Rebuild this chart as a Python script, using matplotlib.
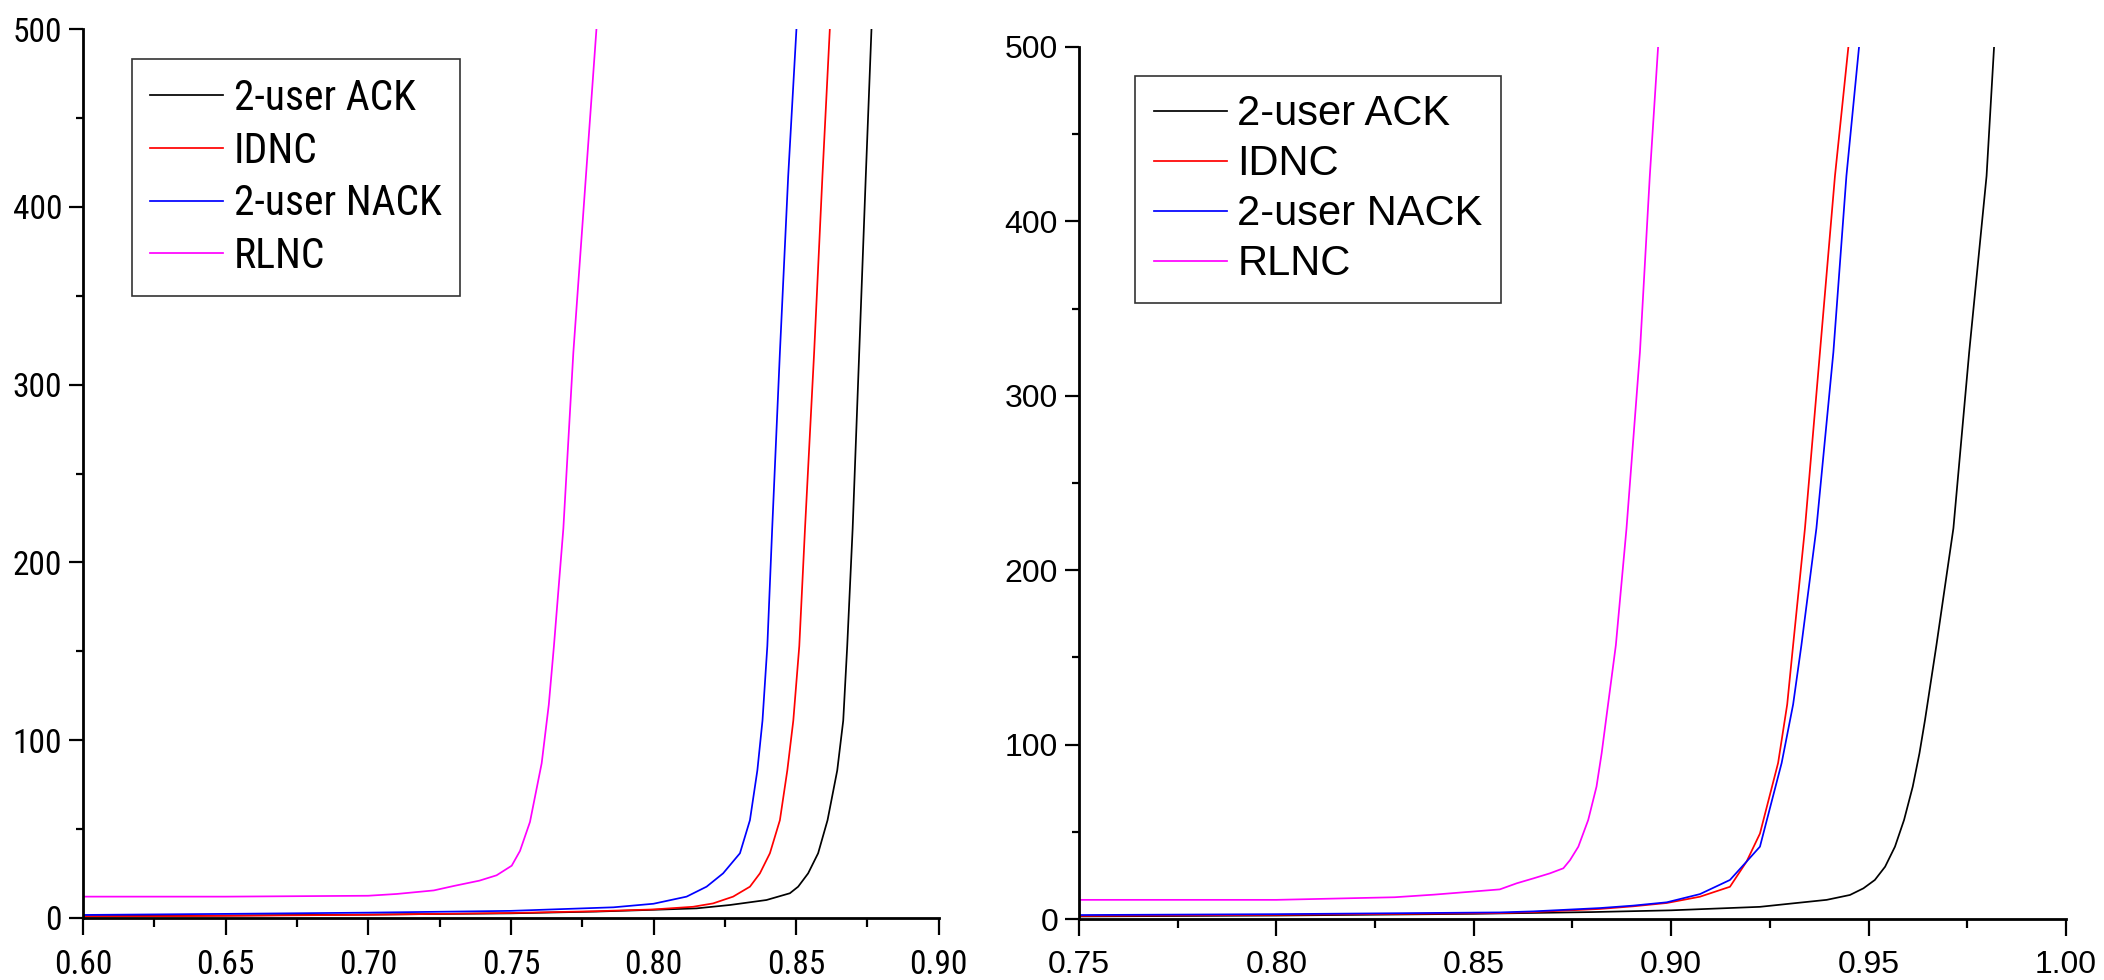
import matplotlib
matplotlib.use("Agg")
import matplotlib.pyplot as plt
from matplotlib import font_manager
from matplotlib.ticker import MultipleLocator, FormatStrFormatter

# left panel curves
ack_x_l = [0.60, 0.65, 0.70, 0.75, 0.78, 0.80, 0.8151, 0.8268, 0.8396, 0.8478, 0.8507,
           0.8542, 0.8577, 0.8610, 0.8644, 0.8665, 0.8679, 0.8698, 0.8721, 0.8744, 0.8764]
ack_y_l = [1.0, 1.4, 1.9, 2.6, 3.6, 4.6, 5.4, 7.3, 10.1, 13.9, 17.6,
           25.1, 36.4, 55, 83, 111, 153, 219, 318, 417, 500]
idnc_x_l = [0.60, 0.65, 0.70, 0.75, 0.78, 0.80, 0.8139, 0.8209, 0.8279, 0.8338, 0.8373,
            0.8408, 0.8443, 0.8469, 0.8490, 0.8511, 0.8531, 0.8563, 0.8592, 0.8618]
idnc_y_l = [0.8, 1.2, 1.8, 2.8, 3.8, 4.8, 6.3, 8.2, 12, 17.6, 25.1,
            36.4, 55, 83, 111, 153, 219, 318, 417, 500]
nack_x_l = [0.60, 0.65, 0.70, 0.75, 0.786, 0.80, 0.8116, 0.8186, 0.8244, 0.8303, 0.8338,
            0.8364, 0.8382, 0.8399, 0.8416, 0.8443, 0.8472, 0.8501]
nack_y_l = [1.7, 2.3, 3.0, 4.0, 6.0, 8.0, 12, 17.6, 25.1, 36.4, 55,
            83, 111, 153, 219, 318, 417, 500]
rlnc_x_l = [0.60, 0.65, 0.70, 0.71, 0.723, 0.73, 0.739, 0.745, 0.7503, 0.7532, 0.7567,
            0.7608, 0.7633, 0.7651, 0.7684, 0.7719, 0.7763, 0.7800]
rlnc_y_l = [12, 12, 12.5, 13.5, 15.5, 18, 21, 24, 29.4, 37.7, 54,
            87, 120, 153, 219, 318, 417, 500]

# right panel curves
ack_x_r = [0.75, 0.80, 0.85, 0.88, 0.90, 0.9225, 0.9309, 0.9394, 0.9453, 0.9487, 0.9516,
           0.9542, 0.9567, 0.9590, 0.9612, 0.9629, 0.9643, 0.9672, 0.9715, 0.9755, 0.9799, 0.9818]
ack_y_r = [1.5, 2, 3, 4, 5, 7.0, 9, 11, 13.8, 17.6, 22.4,
           30, 41.5, 56.8, 75.9, 95, 114, 157, 224, 325, 426, 500]
idnc_x_r = [0.75, 0.80, 0.8566, 0.8651, 0.8820, 0.8904, 0.8989, 0.9073, 0.9149, 0.9191,
            0.9225, 0.9271, 0.9294, 0.9309, 0.9339, 0.9377, 0.9415, 0.9449]
idnc_y_r = [1.8, 2.4, 3.4, 4.0, 5.8, 7.3, 9.2, 12.8, 18.5, 32.9,
            49, 89.5, 123, 157, 224, 325, 426, 500]
nack_x_r = [0.75, 0.80, 0.8566, 0.8651, 0.8820, 0.8904, 0.8989, 0.9073, 0.9149, 0.9191,
            0.9225, 0.9280, 0.9309, 0.9330, 0.9368, 0.9411, 0.9444, 0.9476]
nack_y_r = [2.3, 2.8, 3.8, 4.4, 6.3, 7.7, 9.6, 14.3, 22.4, 32.9,
            41.5, 89.5, 123, 157, 224, 325, 426, 500]
rlnc_x_r = [0.75, 0.80, 0.81, 0.83, 0.84, 0.8566, 0.8609, 0.8651, 0.8693, 0.8727, 0.8744,
            0.8765, 0.8790, 0.8811, 0.8824, 0.8835, 0.886, 0.8887, 0.8921, 0.8946, 0.8967]
rlnc_y_r = [11, 11, 11.5, 12.5, 14, 17, 20.5, 23.3, 26.2, 29.1, 33.8,
            41.5, 56.8, 75.9, 95, 114, 157, 224, 325, 426, 500]

labels = ["2-user ACK", "IDNC", "2-user NACK", "RLNC"]
colors = ["#000000", "#ff0000", "#0000ff", "#ff00ff"]

# the left picture is horizontally squeezed, use a narrow face if there is one
installed = {f.name for f in font_manager.fontManager.ttflist}
narrow_face = None
for name in ["Liberation Sans Narrow", "Arial Narrow", "Roboto Condensed", "Open Sans Condensed"]:
    if name in installed:
        narrow_face = name
        break
regular = ["Liberation Sans", "DejaVu Sans"]
if narrow_face:
    narrow = [narrow_face] + regular
    left_leg, left_tick = 30, 24
else:
    narrow = regular
    left_leg, left_tick = 27, 22

fig = plt.figure(figsize=(21.04, 9.8), dpi=100)


def style_axes(ax, xlim, family, fsize):
    ax.set_xlim(*xlim)
    ax.set_ylim(0, 500)
    for s in ["top", "right"]:
        ax.spines[s].set_visible(False)
    for s in ["left", "bottom"]:
        ax.spines[s].set_linewidth(2.0)
    ax.xaxis.set_major_locator(MultipleLocator(0.05))
    ax.xaxis.set_minor_locator(MultipleLocator(0.025))
    ax.xaxis.set_major_formatter(FormatStrFormatter("%.2f"))
    ax.yaxis.set_major_locator(MultipleLocator(100))
    ax.yaxis.set_minor_locator(MultipleLocator(50))
    ax.tick_params(axis="x", which="major", direction="out", length=12, width=1.6, pad=10)
    ax.tick_params(axis="x", which="minor", direction="out", length=6.5, width=1.6)
    ax.tick_params(axis="y", which="major", direction="out", length=10, width=1.6, pad=5)
    ax.tick_params(axis="y", which="minor", direction="out", length=5, width=1.6)
    for t in ax.get_xticklabels() + ax.get_yticklabels():
        t.set_family(family)
        t.set_fontsize(fsize)


def draw(ax, xs, ys, family, lsize, anchor, spacing):
    for x, y, lab, c in zip(xs, ys, labels, colors):
        ax.plot(x, y, color=c, lw=1.25, label=lab)
    leg = ax.legend(loc="upper left", bbox_to_anchor=anchor, borderaxespad=0,
                    fancybox=False, edgecolor="#333333", framealpha=1,
                    handlelength=1.75, handletextpad=0.25, borderpad=0.45,
                    labelspacing=spacing, prop={"family": family, "size": lsize})
    leg.get_frame().set_linewidth(1.2)


ax1 = fig.add_axes([0.0394, 0.0633, 0.4068, 0.907])
draw(ax1, [ack_x_l, idnc_x_l, nack_x_l, rlnc_x_l], [ack_y_l, idnc_y_l, nack_y_l, rlnc_y_l],
     narrow, left_leg, (0.057, 0.966), 0.28 if narrow_face else 0.4)
style_axes(ax1, (0.60, 0.90), narrow, left_tick)

ax2 = fig.add_axes([0.5128, 0.0622, 0.4691, 0.890])
draw(ax2, [ack_x_r, idnc_x_r, nack_x_r, rlnc_x_r], [ack_y_r, idnc_y_r, nack_y_r, rlnc_y_r],
     regular, 30, (0.057, 0.967), 0.24)
style_axes(ax2, (0.75, 1.00), regular, 23)

fig.savefig("out.png", dpi=100)
